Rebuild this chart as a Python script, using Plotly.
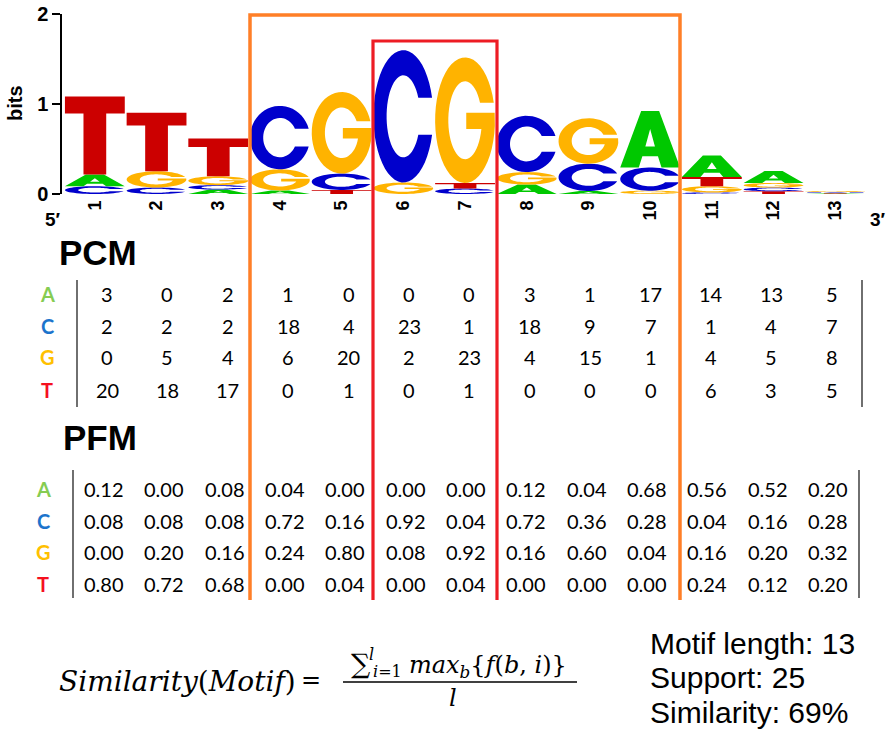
import numpy as np
import plotly.graph_objects as go

# ---------------- data ----------------
positions = list(range(1, 14))
bases = ["A", "C", "G", "T"]
pcm_A = [3, 0, 2, 1, 0, 0, 0, 3, 1, 17, 14, 13, 5]
pcm_C = [2, 2, 2, 18, 4, 23, 1, 18, 9, 7, 1, 4, 7]
pcm_G = [0, 5, 4, 6, 20, 2, 23, 4, 15, 1, 4, 5, 8]
pcm_T = [20, 18, 17, 0, 1, 0, 1, 0, 0, 0, 6, 3, 5]
pfm_A = [0.12, 0.00, 0.08, 0.04, 0.00, 0.00, 0.00, 0.12, 0.04, 0.68, 0.56, 0.52, 0.20]
pfm_C = [0.08, 0.08, 0.08, 0.72, 0.16, 0.92, 0.04, 0.72, 0.36, 0.28, 0.04, 0.16, 0.28]
pfm_G = [0.00, 0.20, 0.16, 0.24, 0.80, 0.08, 0.92, 0.16, 0.60, 0.04, 0.16, 0.20, 0.32]
pfm_T = [0.80, 0.72, 0.68, 0.00, 0.04, 0.00, 0.04, 0.00, 0.00, 0.00, 0.24, 0.12, 0.20]
bits_ticks = [0, 1, 2]
motif_length = 13
support = 25
similarity_pct = 69

W, H = 889, 729
logo_colors = {"A": "#00C800", "C": "#0000CC", "G": "#FFB300", "T": "#CC0000"}
label_colors = {"A": "#86CC52", "C": "#1C74CC", "G": "#FFC000", "T": "#F5101E"}


def px(x):
    return x / W


def py(y):
    return 1 - y / H


# ---------------- glyphs (unit box) ----------------
def arc(cx, cy, rx, ry, a0, a1, n=48):
    t = np.radians(np.linspace(a0, a1, n))
    return list(zip(cx + rx * np.cos(t), cy + ry * np.sin(t)))


RO, RIX, RIY = 0.5, 0.28, 0.31
to = np.degrees(np.arcsin(0.14 / RO))
ti = np.degrees(np.arcsin(0.14 / RIY))


def glyph(letter):
    if letter == "T":
        return [[(0, 1), (1, 1), (1, 0.78), (0.69, 0.78), (0.69, 0), (0.31, 0),
                 (0.31, 0.78), (0, 0.78)]]
    if letter == "A":
        outer = [(0, 0), (0.35, 1), (0.65, 1), (1, 0), (0.69, 0), (0.63, 0.2),
                 (0.37, 0.2), (0.31, 0)]
        hole = [(0.42, 0.37), (0.58, 0.37), (0.5, 0.68)]
        return [outer, hole]
    if letter == "C":
        pts = arc(0.5, 0.5, RO, RO, to, 360 - to) + arc(0.5, 0.5, RIX, RIY, 360 - ti, ti)
        return [pts]
    if letter == "G":
        tg = np.degrees(np.arcsin(0.07 / RIY))
        pts = arc(0.5, 0.5, RO, RO, to, 355)
        pts += [(0.995, 0.56), (0.52, 0.56), (0.52, 0.43)]
        pts += arc(0.5, 0.5, RIX, RIY, 360 - tg, ti)
        return [pts]


def glyph_path(letter, xc, y0, h, half=0.485):
    parts = []
    for poly in glyph(letter):
        coords = ["%.4f,%.5f" % (xc - half + u * 2 * half, y0 + v * h) for u, v in poly]
        parts.append("M " + " L ".join(coords) + " Z")
    return " ".join(parts)


# ---------------- figure ----------------
fig = go.Figure()
fig.add_trace(go.Scatter(x=positions, y=[0] * len(positions), mode="markers",
                         marker=dict(opacity=0), hoverinfo="skip", showlegend=False))

pfm = {"A": pfm_A, "C": pfm_C, "G": pfm_G, "T": pfm_T}
pcm = {"A": pcm_A, "C": pcm_C, "G": pcm_G, "T": pcm_T}

shapes = []
for i, pos in enumerate(positions):
    probs = {b: pfm[b][i] for b in bases}
    ent = -sum(p * np.log2(p) for p in probs.values() if p > 0)
    ic = 2 - ent
    y0 = 0.0
    for b in sorted(bases, key=lambda k: probs[k]):
        h = probs[b] * ic
        if h <= 0:
            continue
        shapes.append(dict(type="path", xref="x", yref="y",
                           path=glyph_path(b, pos, y0, h),
                           fillcolor=logo_colors[b], line=dict(width=0), layer="above"))
        y0 += h


def bracket(x0, x1, ytop, ybot, color, width):
    return dict(type="path", xref="paper", yref="paper",
                path="M %f,%f L %f,%f L %f,%f L %f,%f" % (px(x0), py(ybot), px(x0), py(ytop),
                                                          px(x1), py(ytop), px(x1), py(ybot)),
                line=dict(color=color, width=width), layer="above")


shapes.append(bracket(250, 680, 15, 600, "#FF7F27", 3.5))
shapes.append(bracket(373, 497, 41, 600, "#ED1C24", 3.2))

for xs, y0_, y1_ in [(77, 280, 407), (862, 280, 407), (73, 470, 598), (859, 470, 598)]:
    shapes.append(dict(type="line", xref="paper", yref="paper", x0=px(xs), x1=px(xs),
                       y0=py(y0_), y1=py(y1_), line=dict(color="#222222", width=1.3)))

shapes.append(dict(type="line", xref="paper", yref="paper", x0=px(343), x1=px(577),
                   y0=py(682), y1=py(682), line=dict(color="black", width=1.3)))

ann = []


def text(x, y, s, size, family="Liberation Sans", color="black", weight="normal",
         xanchor="center", angle=0):
    ann.append(dict(x=px(x), y=py(y), xref="paper", yref="paper", text=s, showarrow=False,
                    xanchor=xanchor, yanchor="middle", textangle=angle,
                    font=dict(family=family, size=size, color=color, weight=weight)))


text(15, 103, "bits", 20, weight="bold", angle=-90)
text(53, 219, "5′", 19, weight="bold")
text(878, 219, "3′", 19, weight="bold")

text(98, 252, "PCM", 35, weight="bold")
text(100, 437, "PFM", 35, weight="bold")

pcm_rows = [294, 326, 357, 390]
pfm_rows = [489, 521, 552, 584]
for r, b in enumerate(bases):
    text(47, pcm_rows[r], b, 20, family="Lato", color=label_colors[b], weight="bold")
    text(43, pfm_rows[r], b, 20, family="Lato", color=label_colors[b], weight="bold")
    for i in range(len(positions)):
        text(107 + 60.4 * i, pcm_rows[r], str(pcm[b][i]), 20, family="Lato")
        text(104 + 60.33 * i, pfm_rows[r], "%.2f" % pfm[b][i], 20, family="Lato")

# formula
text(57, 681, "<i>Similarity</i>(<i>Motif</i>)", 28, family="DejaVu Serif", xanchor="left")
text(311, 680, "=", 24, family="DejaVu Serif")
text(360, 663, "∑", 27, family="DejaVu Serif")
text(371, 654, "<i>l</i>", 16, family="DejaVu Serif")
text(387, 671, "<i>i</i>=1", 16, family="DejaVu Serif")
text(407, 666, "<i>max</i><sub><i>b</i></sub>{<i>f</i>(<i>b</i>, <i>i</i>)}", 24,
     family="DejaVu Serif", xanchor="left")
text(453, 698, "<i>l</i>", 24, family="DejaVu Serif")

# summary
text(648, 643, "Motif length: %d" % motif_length, 30, xanchor="left")
text(648, 677, "Support: %d" % support, 30, xanchor="left")
text(648, 712, "Similarity: %d%%" % similarity_pct, 30, xanchor="left")

col_px = 61.7
fig.update_layout(
    width=W, height=H, margin=dict(l=0, r=0, t=0, b=0, autoexpand=False),
    paper_bgcolor="white", plot_bgcolor="white",
    shapes=shapes, annotations=ann, showlegend=False,
    xaxis=dict(domain=[px(62), px(880)],
               range=[0.5 - 2 / col_px, 0.5 + (880 - 64) / col_px],
               tickvals=positions, ticktext=[str(p) for p in positions],
               tickangle=-90, ticks="", showline=False, showgrid=False, zeroline=False,
               tickfont=dict(family="Liberation Sans", size=18, color="black", weight="bold"),
               ticklabelstandoff=2, automargin=False),
    yaxis=dict(domain=[py(194), py(14)], range=[0, 2], tickvals=bits_ticks,
               ticks="outside", ticklen=8, tickwidth=1.5, tickcolor="black",
               showline=True, linewidth=1.5, linecolor="black", showgrid=False, zeroline=False,
               tickfont=dict(family="Liberation Sans", size=20, color="black", weight="bold"),
               automargin=False),
)

fig.write_html("out.html", config={"displayModeBar": False},
               post_script="document.body.style.margin='0';document.body.style.overflow='hidden';")
